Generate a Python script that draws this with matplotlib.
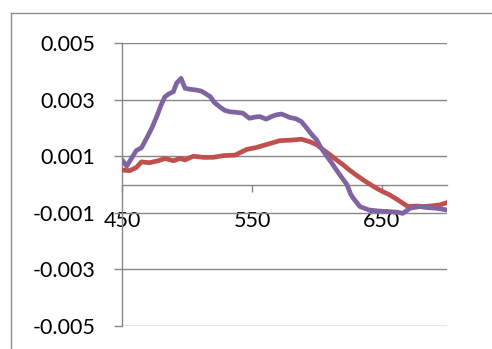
import matplotlib.pyplot as plt
from matplotlib.lines import Line2D

# wavelength (nm) and signal for the two traces
purple_x = [450, 453.6, 457, 461, 465, 469, 473, 476.7, 480, 483, 486, 489.5, 492, 495.4,
            498.5, 503, 507, 511, 514, 518, 521, 525, 529, 533, 538, 543, 548, 552, 556,
            561, 565, 568.6, 572.7, 576, 579, 584, 588, 592, 595, 599.8, 603, 607, 611,
            615, 619, 623, 626, 628, 633, 640, 648, 656, 662, 666, 671.5, 679, 686, 692, 700]
purple_y = [0.00087, 0.00065, 0.0009, 0.0012, 0.0013, 0.00164, 0.002, 0.0024, 0.0028,
            0.0031, 0.0032, 0.00328, 0.00358, 0.00375, 0.0034, 0.00336, 0.00334, 0.0033,
            0.00322, 0.0031, 0.0029, 0.00275, 0.00262, 0.00257, 0.00255, 0.00252, 0.00234,
            0.00238, 0.0024, 0.00231, 0.0024, 0.00246, 0.00249, 0.00243, 0.00237, 0.00232,
            0.00222, 0.002, 0.00182, 0.00157, 0.0013, 0.00104, 0.00078, 0.00051, 0.00025,
            0.0, -0.00035, -0.00049, -0.00078, -0.0009, -0.00094, -0.00096, -0.00098,
            -0.00102, -0.00084, -0.00078, -0.00082, -0.00084, -0.0009]

red_x = [450, 456, 461, 465, 471, 478, 483, 489.5, 494.6, 498.5, 505, 512.5, 520, 528,
         537, 546, 553.6, 562.5, 571.5, 580.5, 588, 594.6, 600, 605, 610, 615, 620, 625,
         630, 635.6, 641, 646, 651, 656, 660, 664, 670, 676.7, 682, 687, 694.6, 700]
red_y = [0.00051, 0.00049, 0.0006, 0.0008, 0.00077, 0.00084, 0.00092, 0.00084, 0.00092,
         0.00087, 0.001, 0.00096, 0.00096, 0.00102, 0.00104, 0.00124, 0.00131, 0.00143,
         0.00155, 0.00157, 0.0016, 0.00151, 0.0014, 0.00122, 0.00105, 0.00087, 0.0007,
         0.00051, 0.00034, 0.00016, 0.0, -0.00014, -0.00026, -0.00037, -0.00048, -0.0006,
         -0.00078, -0.00076, -0.00078, -0.00076, -0.00072, -0.00064]

x_ticks = [450, 550, 650]
y_ticks = [-0.005, -0.003, -0.001, 0.001, 0.003, 0.005]
y_labels = ["-0.005", "-0.003", "-0.001", "0.001", "0.003", "0.005"]

plt.rcParams['font.family'] = ['Lato', 'DejaVu Sans']
gray = "#878787"

fig = plt.figure(figsize=(4.92, 3.49), dpi=100)
ax = fig.add_axes([122/492, 1 - 326/349, (447-122)/492, (326-43)/349])

ax.plot(red_x, red_y, color="#C0504D", lw=3.4, solid_capstyle="round", zorder=3)
ax.plot(purple_x, purple_y, color="#8064A2", lw=3.4, solid_capstyle="round", zorder=4)

ax.set_xlim(450, 700)
ax.set_ylim(-0.005, 0.005)
ax.set_yticks(y_ticks)
ax.set_yticklabels(y_labels)
ax.set_xticks(x_ticks)
ax.set_xticklabels([str(t) for t in x_ticks])

ax.yaxis.grid(True, color=gray, lw=1.0)
ax.set_axisbelow(True)

for s in ["top", "right"]:
    ax.spines[s].set_visible(False)
ax.spines["left"].set_color(gray)
ax.spines["bottom"].set_position(("data", 0))
ax.spines["bottom"].set_color(gray)
for s in ["left", "bottom"]:
    ax.spines[s].set_linewidth(1.0)

ax.tick_params(axis="y", direction="out", length=6, width=1.0, color=gray,
               labelsize=15.5, pad=13)
ax.tick_params(axis="x", direction="out", length=5, width=1.0, color=gray,
               labelsize=15.5, pad=14)

# outer chart-area border (top and left only are visible)
fig.add_artist(Line2D([11/492, 1], [1 - 13/349, 1 - 13/349], color="#8c8c8c", lw=1.0,
                      transform=fig.transFigure))
fig.add_artist(Line2D([11/492, 11/492], [0, 1 - 13/349], color="#8c8c8c", lw=1.0,
                      transform=fig.transFigure))

fig.savefig("out.png", dpi=100)
